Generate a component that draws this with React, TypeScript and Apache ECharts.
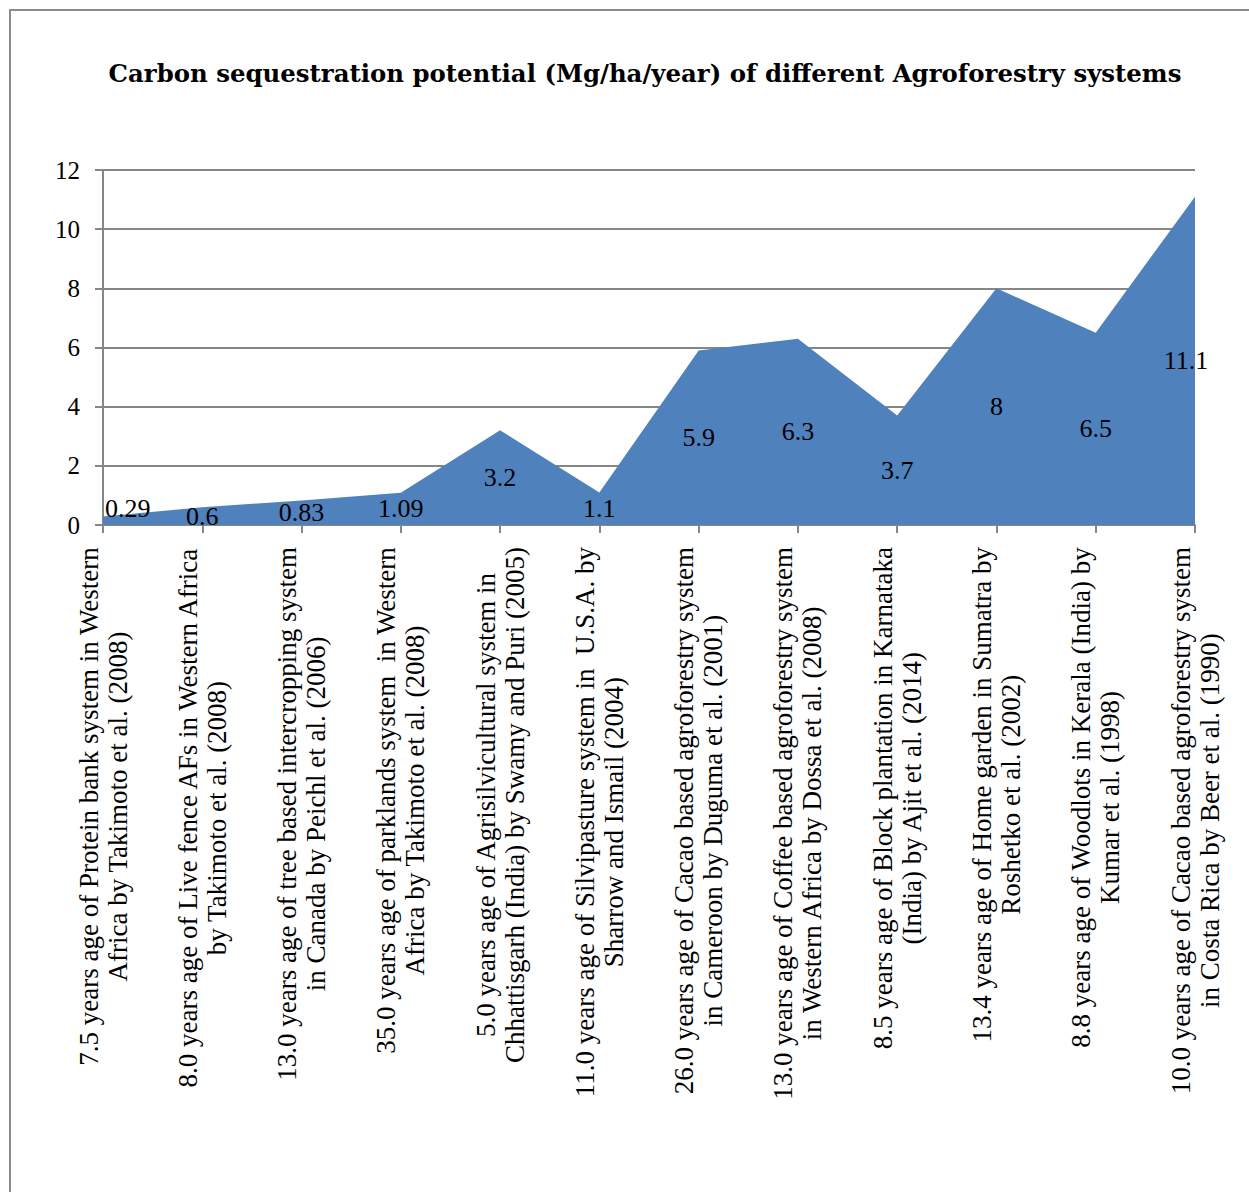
import React, { useEffect, useRef } from "react";
import * as echarts from "echarts";

const titleText = "Carbon sequestration potential (Mg/ha/year) of different Agroforestry systems";

const categories: string[][] = [
  ["7.5 years age of Protein bank system in Western", "Africa by Takimoto et al. (2008)"],
  ["8.0 years age of Live fence AFs in Western Africa", "by Takimoto et al. (2008)"],
  ["13.0 years age of tree based intercropping system", "in Canada by Peichl et al. (2006)"],
  ["35.0 years age of parklands system  in Western", "Africa by Takimoto et al. (2008)"],
  ["5.0 years age of Agrisilvicultural system in", "Chhattisgarh (India) by Swamy and Puri (2005)"],
  ["11.0 years age of Silvipasture system in  U.S.A. by", "Sharrow and Ismail (2004)"],
  ["26.0 years age of Cacao based agroforestry system", "in Cameroon by Duguma et al. (2001)"],
  ["13.0 years age of Coffee based agroforestry system", "in Western Africa by Dossa et al. (2008)"],
  ["8.5 years age of Block plantation in Karnataka", "(India) by Ajit et al. (2014)"],
  ["13.4 years age of Home garden in Sumatra by", "Roshetko et al. (2002)"],
  ["8.8 years age of Woodlots in Kerala (India) by", "Kumar et al. (1998)"],
  ["10.0 years age of Cacao based agroforestry system", "in Costa Rica by Beer et al. (1990)"],
];

const values: number[] = [0.29, 0.6, 0.83, 1.09, 3.2, 1.1, 5.9, 6.3, 3.7, 8, 6.5, 11.1];

const yTicks = { min: 0, max: 12, interval: 2 };

const SERIF = "'Liberation Serif', 'Times New Roman', serif";
const TITLE_FONT = "'DejaVu Serif', serif";

export default function App() {
  const ref = useRef<HTMLDivElement>(null);
  useEffect(() => {
    document.body.style.margin = "0";
    const chart = echarts.init(ref.current!, null, { renderer: "svg" });
    const catKeys = categories.map((c) => c.join("\n"));
    const n = values.length;
    chart.setOption({
      animation: false,
      backgroundColor: "#ffffff",
      title: {
        text: titleText,
        left: 640,
        top: 56,
        textAlign: "center",
        textStyle: { fontFamily: TITLE_FONT, fontWeight: "bold", fontSize: 24.4, color: "#000" },
      },
      graphic: [
        {
          type: "rect",
          shape: { x: 10, y: 10, width: 1400, height: 1400 },
          style: { fill: "none", stroke: "#8c8c8c", lineWidth: 2 },
          silent: true,
        },
      ],
      grid: { left: 103, top: 170, width: 1092, height: 355, containLabel: false },
      xAxis: {
        type: "category",
        data: catKeys,
        boundaryGap: false,
        axisLine: { lineStyle: { color: "#868686", width: 2 } },
        axisTick: { show: true, length: 8, lineStyle: { color: "#868686", width: 2 }, interval: 0 },
        axisLabel: {
          interval: 0,
          rotate: 90,
          margin: 22,
          formatter: (val: string) =>
            val
              .split("\n")
              .map((l) => "{c|" + l + "}")
              .join("\n"),
          rich: {
            c: { align: "center", fontFamily: SERIF, fontSize: 27, color: "#000", lineHeight: 29 },
          },
        },
      },
      yAxis: {
        type: "value",
        min: yTicks.min,
        max: yTicks.max,
        interval: yTicks.interval,
        axisLine: { show: true, lineStyle: { color: "#868686", width: 2 } },
        axisTick: { show: true, length: 8, lineStyle: { color: "#868686", width: 2 } },
        splitLine: { lineStyle: { color: "#868686", width: 2 } },
        axisLabel: { margin: 23, fontFamily: SERIF, fontSize: 25, color: "#000" },
      },
      series: [
        {
          type: "line",
          data: values,
          symbol: "none",
          lineStyle: { width: 0 },
          areaStyle: { color: "#4f81bd", opacity: 1 },
          z: 2,
        },
        {
          type: "custom",
          data: values.map((v, i) => [i, v]),
          encode: { x: 0, y: 1 },
          z: 5,
          renderItem: (params: any, api: any) => {
            const i = api.value(0);
            const v = api.value(1);
            const p = api.coord([i, v / 2]);
            const cs = params.coordSys;
            let x = p[0];
            let y = Math.min(p[1], cs.y + cs.height - 9);
            let align = "center";
            if (i === 0) {
              x = x + 2;
              y = y - 8;
              align = "left";
            } else if (i === n - 1) {
              x = x - 9;
            }
            return {
              type: "text",
              x,
              y,
              style: {
                text: String(v),
                align,
                verticalAlign: "middle",
                fontFamily: SERIF,
                fontSize: 26,
                fill: "#000",
              },
            };
          },
        },
      ],
    });
    return () => chart.dispose();
  }, []);
  return <div ref={ref} style={{ width: 1249, height: 1192 }} />;
}
